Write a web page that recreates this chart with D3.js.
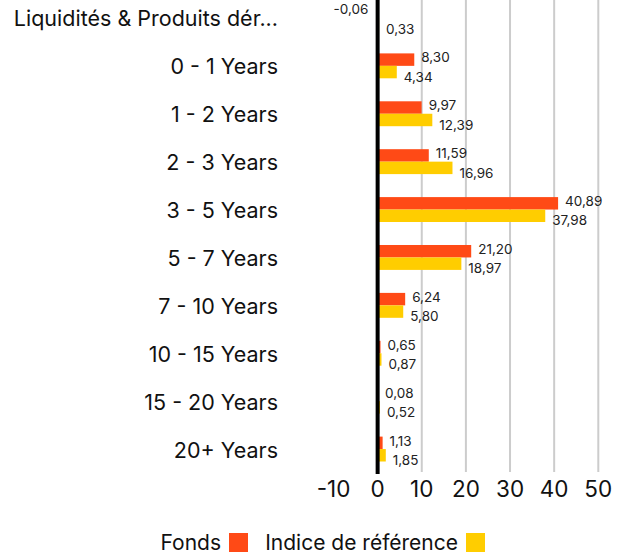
<!DOCTYPE html>
<html>
<head>
<meta charset="utf-8">
<script src="https://cdn.jsdelivr.net/npm/d3@7"></script>
<style>
  body { margin: 0; background: #fff; }
  svg { display: block; font-family: Inter, "Noto Sans", sans-serif; }
</style>
</head>
<body>
<svg id="chart" width="624" height="558"></svg>
<script>
const categories = ["Liquidités & Produits dér...", "0 - 1 Years", "1 - 2 Years", "2 - 3 Years", "3 - 5 Years",
  "5 - 7 Years", "7 - 10 Years", "10 - 15 Years", "15 - 20 Years", "20+ Years"];
const fonds = [-0.06, 8.30, 9.97, 11.59, 40.89, 21.20, 6.24, 0.65, 0.08, 1.13];
const indice = [0.33, 4.34, 12.39, 16.96, 37.98, 18.97, 5.80, 0.87, 0.52, 1.85];
const ticks = [-10, 0, 10, 20, 30, 40, 50];
const seriesNames = ["Fonds", "Indice de référence"];

const colors = ["#FF4A16", "#FFCD00"];
const fmt = v => v.toFixed(2).replace(".", ",");

const svg = d3.select("#chart");

const x = d3.scaleLinear().domain([-10, 50]).range([333.5, 598.3]);
const y = d3.scaleBand().domain(categories).range([-5, 474]).paddingInner(0.48).paddingOuter(0.24);
const ySub = d3.scaleBand().domain([0, 1]).range([0, y.bandwidth()]);

const rows = categories.map((c, i) => ({ cat: c, vals: [fonds[i], indice[i]] }));

// grid
svg.append("g").selectAll("line")
  .data(ticks.filter(t => t > 0))
  .join("line")
  .attr("x1", d => x(d)).attr("x2", d => x(d))
  .attr("y1", 0).attr("y2", 472)
  .attr("stroke", "#cccccc").attr("stroke-width", 2);

// bars
const g = svg.append("g").selectAll("g")
  .data(rows)
  .join("g")
  .attr("transform", d => `translate(0,${y(d.cat) - 1})`);

g.selectAll("rect")
  .data(d => d.vals.map((v, k) => ({ v, k })))
  .join("rect")
  .attr("x", d => x(Math.min(0, d.v)))
  .attr("width", d => Math.abs(x(d.v) - x(0)))
  .attr("y", d => ySub(d.k))
  .attr("height", ySub.bandwidth())
  .attr("fill", d => colors[d.k]);

g.selectAll("text")
  .data(d => d.vals.map((v, k) => ({ v, k })))
  .join("text")
  .attr("x", d => d.v < 0 ? x(d.v) - 9 : x(d.v) + 7)
  .attr("y", d => ySub(d.k) + ySub.bandwidth() / 2 + (d.k === 0 ? -2 : 5))
  .attr("dy", "0.35em")
  .attr("text-anchor", d => d.v < 0 ? "end" : "start")
  .attr("font-size", 13.5)
  .attr("fill", "#222")
  .text(d => fmt(d.v));

// zero line
svg.append("line")
  .attr("x1", x(0)).attr("x2", x(0))
  .attr("y1", 0).attr("y2", 474)
  .attr("stroke", "#000").attr("stroke-width", 4);

// category labels
svg.append("g").selectAll("text")
  .data(categories)
  .join("text")
  .attr("x", 278)
  .attr("y", d => y(d) + y.bandwidth() / 2)
  .attr("dy", "0.35em")
  .attr("text-anchor", "end")
  .attr("font-size", 21.5)
  .attr("fill", "#111")
  .text(d => d);

// x tick labels
svg.append("g").selectAll("text")
  .data(ticks)
  .join("text")
  .attr("x", d => x(d))
  .attr("y", 489)
  .attr("dy", "0.35em")
  .attr("text-anchor", "middle")
  .attr("font-size", 22.5)
  .attr("fill", "#111")
  .text(d => d);

// legend
const legend = svg.append("g");
legend.append("text").attr("x", 221).attr("y", 543).attr("dy", "0.35em")
  .attr("text-anchor", "end").attr("font-size", 21).attr("fill", "#111").text(seriesNames[0]);
legend.append("rect").attr("x", 229).attr("y", 533).attr("width", 19).attr("height", 19).attr("fill", colors[0]);
legend.append("text").attr("x", 458).attr("y", 543).attr("dy", "0.35em")
  .attr("text-anchor", "end").attr("font-size", 21).attr("fill", "#111").text(seriesNames[1]);
legend.append("rect").attr("x", 466).attr("y", 533).attr("width", 19).attr("height", 19).attr("fill", colors[1]);
</script>
</body>
</html>
